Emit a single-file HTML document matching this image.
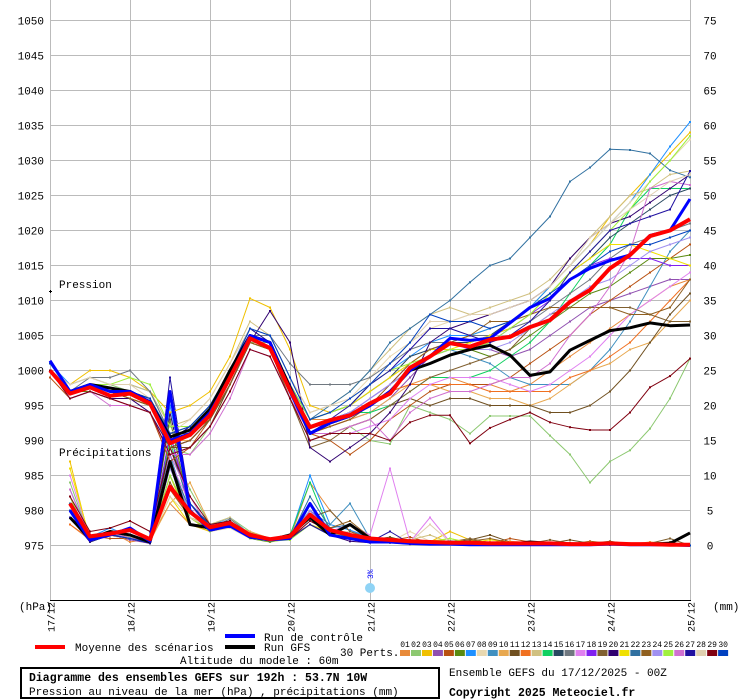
<!DOCTYPE html>
<html><head><meta charset="utf-8"><style>
body{margin:0;background:#fff;width:740px;height:700px;overflow:hidden;font-family:"Liberation Mono","DejaVu Sans Mono",monospace;}
svg{position:absolute;left:0;top:0}
text{font-family:"Liberation Mono","DejaVu Sans Mono",monospace;font-size:11px;fill:#000}
</style></head><body>
<svg id="chart" width="740" height="700"></svg>
<script>
const pTicks=[1050,1045,1040,1035,1030,1025,1020,1015,1010,1005,1000,995,990,985,980,975];
const mmTicks=[75,70,65,60,55,50,45,40,35,30,25,20,15,10,5,0];
const dateLabels=["17/12","18/12","19/12","20/12","21/12","22/12","23/12","24/12","25/12"];
const memberColors=["#e88a3a","#8cc870","#f0c000","#9050b0","#b85010","#5a8a10","#1e90ff","#e8d8b0","#4090c0","#e8a850","#705020","#f07020","#d0c080","#10d060","#284860","#707880","#e080f0","#8020f0","#806030","#300070","#f0e000","#3070a0","#906020","#a090f0","#a0f040","#d070d0","#2010a0","#e0d0b0","#800010","#0040c0"];
const meanP=[1000,996.7,997.6,996.4,996.7,995.3,989.6,990.8,993.6,999,1004.6,1003.2,997.2,991.9,992.9,993.6,995.3,996.7,1000.4,1002,1003.9,1003.4,1004.4,1004.8,1006.2,1007.2,1009.8,1011.5,1014.6,1016.5,1019.2,1020,1021.6];
const controlP=[1001.4,997,998,997,997,995.5,990,991,994,999,1005,1004,997,991,992.5,993.5,995,997,1000,1002,1004.6,1004.3,1004.6,1006.8,1009,1010.3,1013,1014.6,1015.7,1016.5,1019.3,1020,1024.5];
const gfsP=[1000,997,998,997.5,997,995.5,990.5,991.5,994.5,1000,1005,1004,997.5,991,992.5,993.5,995,997,1000,1001,1002.2,1003,1003.6,1002.2,999.3,999.8,1002.9,1004.3,1005.7,1006.1,1006.8,1006.4,1006.5];
const membersP=[
[1000,997,998,997,997,996,990,991,994,999,1005,1004,998,993,993,994,995,997,998,999,999,998,998,997,998,1000,1002,1004,1006,1008,1010,1012,1013],
[1000,997,998,998,997,996,989,988,992,998,1004,1004,998,990,991,992,990,989.5,995,994,993,991,993.5,993.5,993.5,990.7,988,984,987,988.6,991.7,996,1001.7],
[1000,998,1000,1000,999,997,994,995,997,1002,1010.3,1009,1003,995,994,995,997,999,1001,1003,1004,1005,1006,1007,1009,1012,1015,1018,1022,1025,1028,1031,1034],
[1000,996,997,996,996,994,988,989,992,997,1003,1002,996,991,992,993,994,996,999,1002,1003,1003,1003,1002,1003,1005,1007,1009,1010,1011,1012,1013,1013],
[999,996,997,996,995,994,987,989,993,998,1004,1003,996,991,990,988,990,993,995,997,998,998,998,999,1001,1003,1005,1008,1010,1012,1014,1016,1018],
[1000,997,997,996,996,995,990,991,993,998,1004,1003,997,992,993,994,995,997,1000,1002,1003,1003,1002,1003,1005,1007,1009,1011,1012,1014,1016,1016,1016.5],
[1001,998,999,998,998,997,991,992,995,1000,1006,1005,999,993,994,995,998,1000,1002,1004,1005,1005,1006,1007,1009,1012,1015,1018,1021,1024,1028,1032,1035.5],
[1000,997,998,997,997,996,991,992,995,1000,1005,1004,998,993,994,996,999,1002,1004,1006,1007,1008,1008,1009,1010,1012,1015,1018,1021,1024,1027,1030,1033],
[1000,997,998,997,997,995,990,991,994,999,1005,1004,997,992,993,994,996,998,1000,1002,1003,1002,1001,999,998,998,998,1000,1003,1007,1012,1017,1020],
[1000,997,998,997,997,996,990,990,993,998,1004,1003,997,991,992,993,994,996,998,998,997,997,996,996,995,996,998,1000,1001,1003,1004,1007,1010],
[1000,997,998,997,996,995,989,989,992,998,1004,1003,996,990,991,992,993,995,996,995,996,996,995,995,995,994,994,995,997,1000,1004,1008,1011],
[1000,997,998,997,996,995,990,991,994,999,1004,1003,997,991,992,993,995,997,998,998,998,998,997,997,997,997,999,1000,1002,1004,1007,1010,1013],
[1000,998,999,998,998,997,992,993,996,1001,1007,1005,999,994,995,997,1000,1003,1006,1008,1009,1008,1009,1010,1011,1013,1016,1019,1022,1025,1026,1028,1028.5],
[1000,997,998,997,997,996,990,991,994,999,1005,1004,997,992,993,994,994,995,997,999,999,999,1000,1002,1004,1007,1011,1015,1018,1023,1026,1026,1026],
[1000,997,998,997,997,995,990,992,995,1000,1006,1004,998,993,994,995,997,999,1002,1003,1004,1004,1005,1007,1009,1011,1014,1016,1019,1021,1023,1025,1026],
[1000,997,999,999,1000,997,991,991,994,999,1005,1005,1001,998,998,998,999,1001,1003,1004,1004,1005,1005,1006,1007,1009,1011,1013,1016,1018,1019,1020,1021],
[1000,996,997,996,995,994,988,989,992,997,1003,1002,996,990,991,991,992,993,996,998,999,999,999,998,997,998,1000,1002,1005,1008,1010,1012,1014],
[1000,997,998,997,997,995,990,991,994,999,1005,1003,997,991,993,994,996,998,1001,1003,1004,1003,1004,1006,1008,1010,1013,1015,1016,1016,1016,1015,1015],
[1000,997,998,997,996,995,989,990,993,998,1004,1003,996,989,990,992,993,995,997,999,1000,1001,1002,1003,1006,1008,1009,1009,1009,1009,1008,1007,1007],
[1000,996,997,996,996,994,989,990,993,998,1004,1008.5,1004,989,987,989,991,994,998,1004,1006,1007,1008,1009,1010,1012,1016,1019,1021,1022,1024,1026,1028],
[1000,997,998,997,997,996,991,992,995,1000,1005,1004,998,993,994,995,997,999,1001,1003,1003,1004,1005,1006,1008,1011,1014,1016,1018,1018,1017,1016,1015],
[1000,997,998,997,997,995,990,991,994,999,1005,1004,998,993,995,997,1000,1004,1006,1008,1010,1012.6,1015,1016,1019,1022,1027,1029,1031.6,1031.5,1031,1028.6,1027.6],
[1000,997,998,997,996,995,989,990,993,998,1004,1003,997,991,992,993,995,998,1001,1003,1004,1005,1007,1007,1008,1009,1009,1009,1009,1008,1008,1009,1013],
[1000,997,998,997,997,995,990,991,994,999,1005,1004,998,992,993,994,996,998,1000,1002,1003,1003,1003,1004,1006,1008,1010,1012,1013,1015,1017,1018,1019],
[1000,997,998,998,999,998,992,992,995,1000,1005,1004,998,993,994,995,998,1000,1001,1002,1003,1003,1004,1006,1008,1011,1014,1017,1020,1023,1027,1030,1033.5],
[1000,996,997,995,995,994,988,988,991,996,1003,1002,996,991,991,992,993,990,994,996,997,997,998,999,999,1001,1005,1008,1012,1017,1026,1027,1026.5],
[1000,997,998,997,997,996,990,992,995,1000,1006,1004,998,992,993,995,998,1000,1003,1006,1006,1005,1004,1005,1007,1010,1014,1017,1020,1021,1022,1023,1028.5],
[1000,998,999,998,998,996,991,993,996,1001,1006,1005,999,994,995,996,998,1001,1004,1007,1007,1008,1008,1009,1010,1012,1015,1019,1021,1023,1025,1027,1028],
[1000,996,997,996,995,994,988,989,992,997,1003,1002,996,990,991,991,991,990,992.6,993.6,993.6,989.6,991.8,993,994,992.6,991.9,991.5,991.5,994,997.6,999.2,1001.7],
[1001,997,998,997,997,996,991,992,995,1000,1006,1005,999,993,994,996,998,1001,1004,1008,1007,1007,1006,1007,1009,1011,1013,1015,1017,1018,1018,1019,1020]
];
const meanR=[6,1.3,1.7,2.2,0.9,8.4,4.8,2.6,3.2,1.5,0.9,1.3,4.4,2.2,1.5,1,0.8,0.6,0.5,0.4,0.4,0.3,0.3,0.3,0.3,0.2,0.2,0.3,0.2,0.2,0.1,0.1];
const controlR=[5,0.8,1.5,2.5,0.6,22,5,2.2,2.8,1.2,0.8,1,6,1.5,1,0.5,0.5,0.3,0.2,0.2,0.1,0.1,0.1,0.1,0.1,0.1,0.1,0.2,0.1,0.1,0.1,0];
const gfsR=[4,1,2,1.5,0.5,12,3,2.5,3,1.2,0.8,1.5,4,1.5,3,1,0.8,0.6,0.3,0.5,0.3,0.2,0.2,0.5,0.3,0.2,0.2,0.3,0.2,0.2,0.3,1.8];
const membersR=[
[3,1,2,0.5,1,6,3,3,3,1,0.8,1,9,5,2,1,0.5,0.3,0.2,0.5,0.3,0.2,0.1,0.5,0.3,0.2,0.1,0.3,0.2,0.5,0.3,0],
[9,1,2,1,0.4,14,8,3,4,2,1,1.5,5,2,1,1,0.5,0.3,0.3,0.2,0.5,0.2,0.3,0.2,0.1,0.2,0.1,0.2,0.1,0.1,0.1,0],
[12,0.5,2,1,0.6,10,3,2,3,1.5,0.8,1,4,2.5,1,0.5,1,0.8,0.5,2,0.8,0.3,0.4,0.2,0.3,0.2,0.4,0.2,0.1,0.2,0.1,0],
[7,0.8,1.5,0.8,0.3,16,6,2.5,3.5,1.5,0.6,1.2,3,1.5,2,1.2,0.6,0.3,0.3,0.4,0.3,0.2,0.5,0.3,0.2,0.2,0.2,0.1,0.1,0.1,0.1,0],
[6,1.4,1,1,0.7,9,4,2,3,1.8,1,0.8,5,2,1.4,0.8,0.7,1.2,0.4,0.3,0.6,0.3,1,0.5,0.3,0.2,0.6,0.3,0.2,0.1,0.2,0],
[5,1,2,1.2,0.4,18,5,3,3,1,0.5,1,6,2,1.2,1,0.4,0.3,0.3,0.2,0.2,0.2,0.2,0.2,0.1,0.2,0.1,0.1,0.2,0.1,0.1,0],
[8,1.2,2.5,1.3,0.8,20,6,2.8,4,1.6,0.9,1.3,10,3,2.2,1.2,0.5,0.4,0.3,0.3,0.2,0.3,0.2,0.3,0.2,0.1,0.2,0.2,0.1,0.1,0.1,0],
[4,0.6,1.4,1,0.9,11,5,2,2.5,1,0.7,1,4,2,2,1,0.5,2,0.6,0.4,0.3,0.3,0.4,0.3,0.2,0.3,0.2,0.2,0.1,0.2,0.1,0],
[5,1,1.8,1.5,0.5,13,4,2.5,3.3,1.4,0.8,1.2,5,3,6,1,0.5,0.3,0.2,0.3,0.2,0.2,0.3,0.2,0.1,0.2,0.1,0.1,0.1,0.1,0.1,0],
[4,1.2,2,1,0.6,6,9,3,3,2,1,1,3,1.8,1.5,0.8,0.6,0.6,0.5,0.3,0.4,0.5,0.6,0.4,0.3,0.3,0.3,0.2,0.2,0.2,0.2,0],
[5,1,1.8,1.5,0.5,12,5,2.5,3,1.5,0.8,1,5,2,1.5,0.8,1.2,0.5,0.6,0.5,0.8,1.5,0.5,0.4,0.3,0.8,0.3,0.2,0.2,0.3,0.5,0],
[3,0.8,1.6,1.4,0.4,8,4,2,3,1.4,0.6,1.2,4,2,1.5,0.6,0.5,0.4,0.2,0.5,0.4,0.2,0.3,0.2,0.2,0.2,0.4,0.2,0.1,0.2,0.1,0],
[6,1,2,1.2,0.5,9,4,3,4,1.5,1,1,3,1.5,1,0.8,0.6,0.8,1.5,0.4,0.3,0.3,0.2,0.2,0.3,0.2,0.2,0.1,0.1,0.1,0.1,0],
[7,0.5,1.5,1.2,0.4,15,5,2.5,3.5,1.2,0.8,1.5,9,2,1,0.6,0.4,0.3,0.3,0.2,0.3,0.2,0.3,0.1,0.2,0.1,0.1,0.1,0.1,0.1,0.1,0],
[6,1,2,1.5,0.5,14,6,3,3.5,1.3,0.9,1,6,2,1.5,1,0.6,0.4,0.3,0.3,0.2,0.2,0.2,0.2,0.1,0.1,0.1,0.1,0.1,0.1,0.1,0],
[5,0.8,1.6,1,0.4,10,4,2.5,3.8,1.6,0.8,1.2,5,2,1.5,0.8,0.5,0.4,0.3,0.2,0.2,0.2,0.2,0.2,0.1,0.1,0.1,0.2,0.1,0.1,0.1,0],
[10,1,2,1,0.6,12,6,2,3,1.5,1,1.1,4,2,3,1.5,11,0.5,4,0.5,0.3,0.4,0.2,0.3,0.2,0.2,0.1,0.2,0.1,0.1,0.1,0],
[6,1,1.8,1.2,0.5,16,5,2.8,3.2,1.4,0.8,1,5,2.5,1.2,0.8,0.5,0.4,0.3,0.3,0.2,0.2,0.2,0.2,0.2,0.2,0.2,0.1,0.1,0.1,0.1,0],
[5,1.2,2,1.4,0.6,9,4,2.2,3,1.4,0.9,1.2,4,5,2,1,0.6,0.8,0.6,0.5,1,0.4,0.5,0.3,0.8,0.3,0.3,0.4,0.3,0.3,1,0],
[4,0.5,1.5,1,0.3,19,6,2.5,3,1.3,0.7,0.9,3,1.5,0.6,0.4,0.4,0.2,0.2,0.2,0.2,0.1,0.1,0.1,0.1,0.1,0.1,0.1,0.1,0.1,0,0],
[11,1,2,1,0.6,7,3,2.5,3,1.2,0.8,1,3,2,1,0.8,0.8,0.5,0.6,1,0.4,0.8,0.5,0.3,0.2,0.2,0.3,0.2,0.2,0.1,0.1,0],
[6,0.8,1.5,1.2,0.5,12,5,2.5,3.5,1.4,0.9,1.1,7,2.5,3,1,0.5,0.3,0.3,0.3,0.2,0.2,0.2,0.2,0.2,0.1,0.1,0.1,0.1,0.1,0.1,0],
[5,1,1.7,1.3,0.5,8,4,2,2.8,1.4,0.8,1,4,2.5,3.5,1.2,0.6,0.8,0.5,0.4,0.6,1,0.4,0.5,0.3,0.4,0.3,0.6,0.2,0.2,0.3,0],
[4,1,2,1,0.6,11,5,3,3,1.2,0.8,1.2,5,2,1.5,0.8,0.5,0.4,0.3,0.3,0.2,0.2,0.2,0.2,0.2,0.1,0.1,0.1,0.1,0.1,0.1,0],
[7,0.6,1.5,1.2,0.5,10,4,2,3,1,0.6,0.8,3,1.5,1,0.5,0.6,0.5,0.5,1,0.3,0.3,0.2,0.2,0.1,0.2,0.1,0.2,0.1,0.1,0.1,0],
[8,1,1.8,1.1,0.5,13,7,2.2,3.2,1.5,0.9,1,4,2,1.5,0.8,0.4,0.3,0.3,0.3,0.2,0.2,0.4,0.2,0.1,0.2,0.1,0.1,0.1,0.1,0.1,0],
[4,0.6,1.5,1,0.4,24,6,2.5,3.5,1.3,0.7,1,3,1.5,1,0.5,2,0.3,0.2,0.2,0.1,0.1,0.1,0.1,0.1,0.1,0.1,0.1,0.1,0.1,0.1,0],
[5,1,2,1.3,0.6,7,4,2.5,3,1.3,0.9,1.2,4,2,1.5,1,0.6,0.5,3,0.5,0.3,0.3,0.3,0.2,0.2,0.2,0.2,0.2,0.1,0.2,0.1,0],
[7,2,2.5,3.5,2,14,7,3,3.5,1.6,1,1,3.5,2,1.5,0.8,0.6,0.4,0.3,0.4,0.3,0.2,0.2,0.3,0.2,0.2,0.2,0.1,0.1,0.1,0.1,0],
[5,0.8,1.6,1,0.4,21,6,2.8,3.2,1.3,0.8,1.1,6,2,1.2,0.7,0.5,0.3,0.3,0.2,0.2,0.2,0.2,0.2,0.1,0.1,0.1,0.1,0.1,0.1,0.1,0]
];

const NS="http://www.w3.org/2000/svg";
const svg=document.getElementById('chart');
const X0=50,PX=20;
const yP=v=>20.5+(1050-v)*7;
const yR=v=>545.5-v*7;
const xP=i=>X0+i*PX;
const xR=i=>X0+(i+1)*PX;
function el(tag,attrs,parent){const e=document.createElementNS(NS,tag);for(const k in attrs)e.setAttribute(k,attrs[k]);(parent||svg).appendChild(e);return e;}

const grid=el('g',{});


pTicks.forEach((t,i)=>{
  const y=yP(t);
  el('line',{x1:50,x2:690,y1:y,y2:y,stroke:'#bbb','stroke-width':1},grid);
  const tl=el('text',{x:44,y:y+4,'text-anchor':'end'});
  tl.textContent=t;
  
  
  const tr=el('text',{x:710,y:y+4,'text-anchor':'middle'});
  tr.textContent=mmTicks[i];
  
  
});
dateLabels.forEach((d,i)=>{
  const x=50.5+i*80;
  el('line',{x1:x,x2:x,y1:0,y2:600,stroke:'#bbb','stroke-width':1},grid);
  const t=el('text',{transform:`translate(${x+4},632) rotate(-90)`,style:'font-size:10px'});
  t.textContent=d;
  
  
});
el('line',{x1:50,x2:691,y1:600.5,y2:600.5,stroke:'#000','stroke-width':1});

function series(vals,xf,yf,color,w,name,markers){
  const g=el('g',{});
  
  
  const pts=vals.map((v,i)=>xf(i).toFixed(1)+','+yf(v).toFixed(1)).join(' ');
  el('polyline',{points:pts,fill:'none',stroke:color,'stroke-width':w,'stroke-linejoin':'round'},g);
  if(markers)vals.forEach((v,i)=>el('rect',{x:xf(i)-1,y:yf(v)-1,width:2,height:2,fill:color},g));
}
membersR.forEach((m,k)=>series(m,xR,yR,memberColors[k],1,'precip-member-'+(k+1),true));
membersP.forEach((m,k)=>series(m,xP,yP,memberColors[k],1,'pressure-member-'+(k+1),true));
series(gfsR,xR,yR,'#000',3,'precip-gfs-run',false);
series(controlR,xR,yR,'#0000ff',3,'precip-control-run',false);
series(meanR,xR,yR,'#ff0000',4,'precip-mean',false);
series(gfsP,xP,yP,'#000',3,'pressure-gfs-run',false);
series(controlP,xP,yP,'#0000ff',3,'pressure-control-run',false);
series(meanP,xP,yP,'#ff0000',4,'pressure-mean',false);

function txt(x,y,s,extra,name){const t=el('text',Object.assign({x:x,y:y},extra||{}));t.textContent=s;


return t;}
el('rect',{x:49,y:291,width:3,height:1,fill:'#000'});el('rect',{x:50,y:290,width:1,height:3,fill:'#000'});
txt(59,288,'Pression',{},'pressure-label');
txt(59,456,'Précipitations',{},'precip-label');
txt(19,610,'(hPa)',{},'pressure-unit');
txt(713,610,'(mm)',{},'precip-unit');
const snow=el('g',{});


el('circle',{cx:370,cy:588,r:5,fill:'#8fd3f5'},snow);
el('text',{transform:'translate(373,579) rotate(-90)',style:'font-size:8px;fill:#00f'},snow).textContent='3%';
el('rect',{x:35,y:645,width:30,height:4,fill:'#f00'});
txt(75,651,'Moyenne des scénarios',{},'legend-mean');
el('rect',{x:225,y:634,width:30,height:4,fill:'#00f'});
txt(264,641,'Run de contrôle',{},'legend-control');
el('rect',{x:225,y:645,width:30,height:4,fill:'#000'});
txt(264,651,'Run GFS',{},'legend-gfs');
txt(180,664,'Altitude du modele : 60m',{},'model-altitude');
txt(340,656,'30 Perts.',{},'legend-perturbations');
memberColors.forEach((c,k)=>{
  const x=400+k*10.97;
  const n=el('text',{x:x+5,y:647,'text-anchor':'middle',style:'font-size:8px'});
  n.textContent=String(k+1).padStart(2,'0');
  
  
  const r=el('rect',{x:x,y:650,width:10,height:6,fill:c});
  
  
});
const box=el('rect',{x:21,y:668,width:418,height:30,fill:'none',stroke:'#000','stroke-width':2});


txt(29,681,'Diagramme des ensembles GEFS sur 192h : 53.7N 10W',{style:'font-weight:bold;font-size:11.5px'},'chart-title');
txt(29,695,'Pression au niveau de la mer (hPa) , précipitations (mm)',{},'chart-subtitle');
txt(449,676,'Ensemble GEFS du 17/12/2025 - 00Z',{},'run-info');
txt(449,696,'Copyright 2025 Meteociel.fr',{style:'font-weight:bold;font-size:11.5px'},'copyright');
</script>
</body></html>
